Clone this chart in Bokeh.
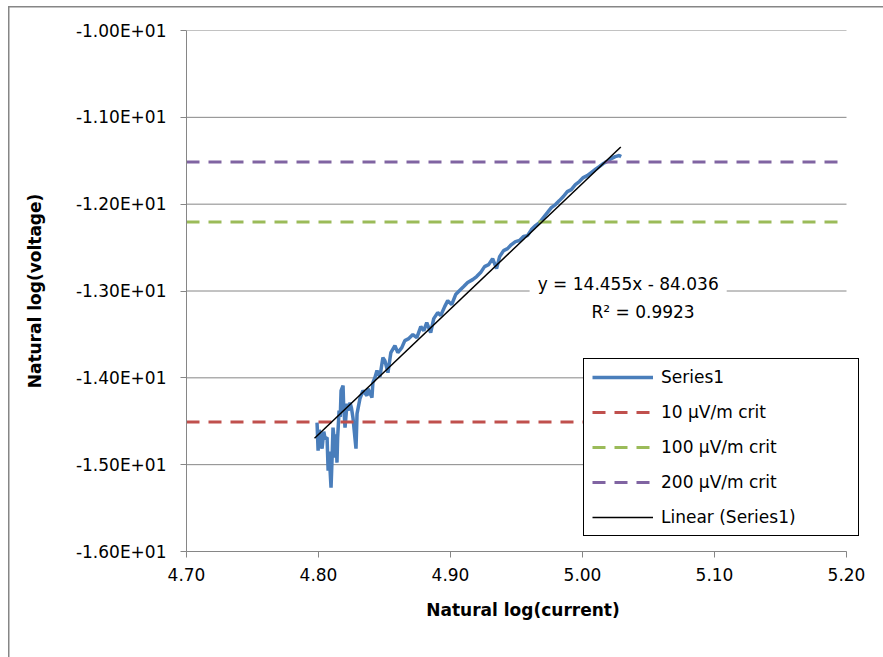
from bokeh.plotting import figure
from bokeh.models import Range1d, FixedTicker, Label, Legend, LegendItem
from bokeh.embed import file_html
from bokeh.resources import INLINE

# ---------------- data ----------------
series_x = [
    4.7989, 4.7997, 4.8005, 4.8012, 4.8020, 4.8027, 4.8040, 4.8050, 4.8065,
    4.8073, 4.8080, 4.8095, 4.8103, 4.8110, 4.8118, 4.8125, 4.8133, 4.8140,
    4.8145, 4.8156, 4.8165, 4.8171, 4.8186, 4.8190, 4.8201, 4.8216, 4.8224,
    4.8239, 4.8250, 4.8261, 4.8284, 4.8292, 4.8314, 4.8337, 4.8367, 4.8375,
    4.8405, 4.8412, 4.8427, 4.8443, 4.8465, 4.8488,
    4.8503, 4.8526, 4.8548, 4.8579, 4.8601, 4.8631, 4.8654, 4.8684, 4.8715,
    4.8745, 4.8775, 4.8798, 4.8820, 4.8850, 4.8873, 4.8903, 4.8926, 4.8956,
    4.8979, 4.9009, 4.9039, 4.9069, 4.9100, 4.9130, 4.9168,
    4.9198, 4.9228, 4.9258, 4.9289, 4.9319, 4.9349, 4.9372, 4.9402, 4.9432,
    4.9462, 4.9492, 4.9523, 4.9553, 4.9583, 4.9613, 4.9644, 4.9674, 4.9704,
    4.9734, 4.9764, 4.9795,
    4.9825, 4.9855, 4.9885, 4.9915, 4.9946, 4.9976, 5.0006, 5.0036, 5.0066,
    5.0097, 5.0127, 5.0157, 5.0187, 5.0218, 5.0248, 5.0278, 5.0293,
]
series_y = [
    -14.516, -14.839, -14.600, -14.643, -14.760, -14.816, -14.620, -14.700, -14.689,
    -15.069, -14.850, -15.265, -14.919, -14.574, -14.700, -14.919, -14.650, -14.977,
    -14.689, -14.378, -14.450, -14.147, -14.090, -14.297, -14.574, -14.297, -14.378,
    -14.286, -14.350, -14.459, -14.816, -14.412, -14.240, -14.147, -14.205, -14.124,
    -14.228, -14.055, -13.998, -13.917, -13.990, -13.767,
    -13.802, -13.940, -13.710, -13.629, -13.710, -13.652, -13.571, -13.548, -13.502,
    -13.537, -13.410, -13.456, -13.364, -13.479, -13.318, -13.249, -13.283, -13.180,
    -13.111, -13.157, -13.041, -12.995, -12.949, -12.903, -12.869,
    -12.834, -12.788, -12.719, -12.696, -12.627, -12.742, -12.604, -12.535, -12.512,
    -12.465, -12.431, -12.419, -12.373, -12.362, -12.293, -12.247, -12.212, -12.154,
    -12.097, -12.039, -12.005,
    -11.959, -11.912, -11.855, -11.832, -11.774, -11.740, -11.694, -11.671, -11.636,
    -11.601, -11.567, -11.532, -11.509, -11.475, -11.452, -11.440, -11.452,
]

crit_labels = ["10 µV/m crit", "100 µV/m crit", "200 µV/m crit"]
crit_levels = [-14.509, -12.206, -11.513]
crit_colors = ["#C0504D", "#9BBB59", "#8064A2"]
x_min, x_max = 4.70, 5.20
y_min, y_max = -16.0, -10.0

trend_slope = 14.455
trend_intercept = -84.036
trend_r2 = 0.9923
trend_x = [4.797, 5.029]
trend_y = [trend_slope * v + trend_intercept for v in trend_x]

x_ticks = [4.70, 4.80, 4.90, 5.00, 5.10, 5.20]
x_tick_labels = ["4.70", "4.80", "4.90", "5.00", "5.10", "5.20"]
y_ticks = [-16, -15, -14, -13, -12, -11, -10]
y_tick_labels = ["-1.60E+01", "-1.50E+01", "-1.40E+01", "-1.30E+01",
                 "-1.20E+01", "-1.10E+01", "-1.00E+01"]

FONT = "DejaVu Sans"
FS = "17px"
GRID = "#868686"

# the frame runs a little past the last tick so the legend can overhang it
AXIS_PX = 660
FRAME_PX = 673
x_view_end = x_min + (x_max - x_min) * FRAME_PX / AXIS_PX

# ---------------- figure ----------------
p = figure(width=883, height=657, x_range=Range1d(x_min, x_view_end),
           y_range=Range1d(y_min, y_max), output_backend="svg",
           toolbar_location=None, min_border_left=186, min_border_right=24,
           min_border_top=30, min_border_bottom=106,
           styles={"background-color": "white",
                   "box-shadow": "inset 8px 6px 0 0 white, "
                                 "inset 9.5px 7.5px 0 0 #868686"})
p.outline_line_color = None
p.background_fill_color = "white"
p.border_fill_alpha = 0
p.xgrid.visible = False
p.ygrid.visible = False

p.xaxis.ticker = FixedTicker(ticks=x_ticks)
p.xaxis.major_label_overrides = dict(zip(x_ticks, x_tick_labels))
p.xaxis.bounds = (x_min, x_max)
p.yaxis.ticker = FixedTicker(ticks=y_ticks)
p.yaxis.major_label_overrides = dict(zip(y_ticks, y_tick_labels))

for ax in (p.xaxis[0], p.yaxis[0]):
    ax.axis_line_color = GRID
    ax.axis_line_width = 1
    ax.major_tick_line_color = GRID
    ax.major_tick_out = 6
    ax.major_tick_in = 0
    ax.minor_tick_out = 0
    ax.minor_tick_in = 0
    ax.major_label_text_font = FONT
    ax.major_label_text_font_size = FS
    ax.major_label_text_color = "black"
    ax.axis_label_text_font = FONT
    ax.axis_label_text_font_size = FS
    ax.axis_label_text_font_style = "bold"
    ax.axis_label_text_color = "black"

p.xaxis.axis_label = "Natural log(current)"
p.yaxis.axis_label = "Natural log(voltage)"
p.xaxis.major_label_standoff = 10
p.yaxis.major_label_standoff = 14
p.xaxis.axis_label_standoff = 16
p.yaxis.axis_label_standoff = 28

# horizontal gridlines at the y ticks, spanning the axis range only
p.segment(x0=[x_min] * len(y_ticks), x1=[x_max] * len(y_ticks),
          y0=y_ticks, y1=y_ticks, line_color=GRID, line_width=1)

r_series = p.line(series_x, series_y, line_color="#4A7EBB", line_width=3.5)
r_crit = []
for lvl, col in zip(crit_levels, crit_colors):
    r = p.line([x_min, x_max], [lvl, lvl], line_color=col, line_width=3,
               line_dash="13 9")
    r_crit.append(r)
r_trend = p.line(trend_x, trend_y, line_color="black", line_width=1.5)

# equation labels
p.add_layout(Label(x=5.0346, y=-12.915,
                   text=f"y = {trend_slope}x - {abs(trend_intercept)}",
                   text_align="center", text_baseline="middle",
                   text_font=FONT, text_font_size=FS, text_color="black",
                   background_fill_color="white", padding=8))
p.add_layout(Label(x=5.0459, y=-13.237, text=f"R² = {trend_r2}",
                   text_align="center", text_baseline="middle",
                   text_font=FONT, text_font_size=FS, text_color="black"))

items = [LegendItem(label="Series1", renderers=[r_series])]
for lab, r in zip(crit_labels, r_crit):
    items.append(LegendItem(label=lab, renderers=[r]))
items.append(LegendItem(label="Linear (Series1)", renderers=[r_trend]))

legend = Legend(items=items, location=(397, 15), padding=8, margin=0,
                spacing=15, label_height=20, glyph_height=20, glyph_width=61,
                label_width=189, label_standoff=8,
                border_line_color="black", border_line_width=1,
                border_line_alpha=1,
                background_fill_color="white", background_fill_alpha=1,
                label_text_font=FONT, label_text_font_size=FS,
                label_text_color="black")
p.add_layout(legend)

open("out.html", "w").write(file_html(p, INLINE))
